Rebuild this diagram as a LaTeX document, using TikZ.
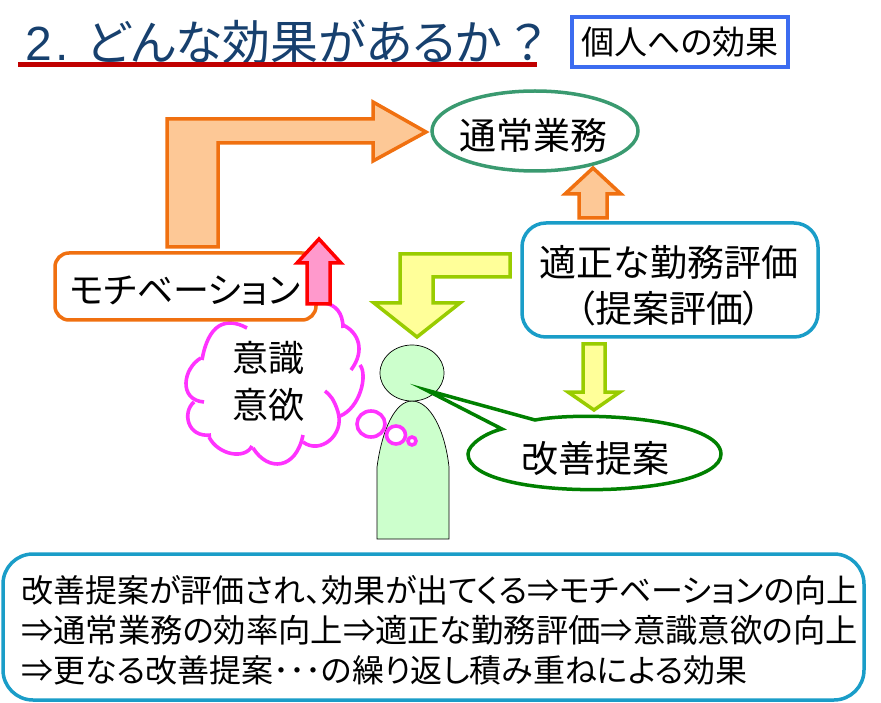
\documentclass[tikz,border=0pt]{standalone}
\usepackage{fontspec}
\setmainfont[RawFeature=+palt]{Noto Sans CJK JP}
\newfontfamily\latinf{Liberation Sans}
\definecolor{tblue}{HTML}{17406E}
\definecolor{tred}{HTML}{C00000}
\definecolor{bblue}{HTML}{3C6CF0}
\definecolor{orng}{HTML}{F07010}
\definecolor{lorng}{HTML}{FDC896}
\definecolor{ggreen}{HTML}{3A9A70}
\definecolor{cyanb}{HTML}{1A9DC8}
\definecolor{ylw}{HTML}{FFFF99}
\definecolor{olive}{HTML}{99CC00}
\definecolor{pnk}{HTML}{FF99CC}
\definecolor{mag}{HTML}{FF33FF}
\definecolor{pers}{HTML}{CCFFCC}
\definecolor{dgreen}{HTML}{008000}
\tikzset{
  js/.style={font=\fontsize{#1}{#1}\selectfont,inner sep=0pt,text=black},
  orarrow/.style={draw=orng,fill=lorng,line width=3.5pt,miter limit=10},
  yarrow/.style={draw=olive,fill=ylw,line width=3.5pt,miter limit=10},
  rarrow/.style={draw=red,fill=pnk,line width=3.5pt,miter limit=10},
  rbox/.style={draw=#1,fill=white,line width=3.5pt},
  cloudline/.style={draw=mag,line width=3.6pt},
  personfill/.style={draw=black,fill=pers,line width=0.7pt}
}
\begin{document}
\begin{tikzpicture}[x=1pt,y=-1pt]
\useasboundingbox (0,0) rectangle (881,703);
% title
\node[font=\fontsize{48}{48}\selectfont,text=tblue,inner sep=0pt,anchor=west] (title) at (25,42) {{\latinf 2\hspace{4pt}.}\hspace{17pt}どんな効果があるか\hspace{9pt}？};
\draw[tred,line width=5pt] (18,65) -- (537,65);
\node[draw=bblue,fill=white,line width=3.5pt,minimum width=216pt,minimum height=50pt,inner sep=0pt,font=\fontsize{33}{33}\selectfont] (kojin) at (680,42) {個人への効果};
% big bent arrow
\draw[orarrow] (167,247) -- (167,119) -- (373,119) -- (373,102) -- (426,132) -- (373,161) -- (373,143) -- (218,143) -- (218,247) -- cycle;
% ellipse
\draw[draw=ggreen,fill=white,line width=3.5pt] (535,131) ellipse [x radius=103pt,y radius=40pt];
\node[js=37] (tsujo) at (533,135) {通常業務};
% small up arrow
\draw[orarrow] (579,218) -- (579,194) -- (565,194) -- (593,168) -- (621,194) -- (607,194) -- (607,218) -- cycle;
% cloud
\fill[white] (232,330) -- (340,310) -- (360,380) -- (300,450) -- (200,440) -- (190,380) -- cycle;
\draw[cloudline] (247,328) .. controls (225,316) and (208,325) .. (202,360);
\draw[cloudline] (201,358) .. controls (183,368) and (178,400) .. (204,402);
\draw[cloudline] (194,402) .. controls (182,412) and (187,438) .. (211,435);
\draw[cloudline] (209,437) .. controls (218,455) and (245,460) .. (252,446);
\draw[cloudline] (253,448) .. controls (268,472) and (296,470) .. (303,435);
\draw[cloudline] (303,442) .. controls (320,455) and (345,435) .. (338,412) .. controls (334,399) and (330,395) .. (325,391);
\draw[cloudline] (340,416) .. controls (360,408) and (368,375) .. (360,365);
\draw[cloudline] (351,370) .. controls (366,350) and (358,332) .. (343,325);
\draw[cloudline] (343,328) .. controls (343,312) and (335,305) .. (325,303);
\node[js=36] (ishiki) at (268,358) {意識};
\node[js=36] (iyoku) at (268,405) {意欲};
% motivation
\draw[rbox=orng,rounded corners=14pt] (55,253) rectangle (316,320);
\node[js=36] (moti) at (185,291) {モチベーション};
% red arrow
\draw[rarrow] (307,304) -- (307,263) -- (297,263) -- (319,239) -- (341,263) -- (330,263) -- (330,304) -- cycle;
% tekisei
\draw[rbox=cyanb,rounded corners=24pt] (522,223) rectangle (818,337);
\node[js=37] (tek1) at (669,262) {適正な勤務評価};
\node[js=37] (tek2) at (669,308) {（提案評価）};
% yellow bent arrow
\draw[yarrow] (510,254) -- (400,254) -- (400,303) -- (374,303) -- (417,337) -- (460,303) -- (433,303) -- (433,277) -- (510,277) -- cycle;
% yellow down arrow
\draw[yarrow] (583,344) -- (605,344) -- (605,392) -- (620,392) -- (594,410) -- (568,392) -- (583,392) -- cycle;
% person
\draw[personfill] (377,539) -- (377,467) .. controls (382,430) and (395,401) .. (412,401) .. controls (430,401) and (445,430) .. (449,467) -- (449,539) -- cycle;
\draw[personfill] (412,373) ellipse [x radius=32pt,y radius=28pt];
% thought bubbles
\draw[cloudline,fill=white] (371,424) ellipse [x radius=14pt,y radius=13pt];
\draw[cloudline,fill=white] (396,435) ellipse [x radius=9.5pt,y radius=9pt];
\draw[cloudline,fill=white] (412,441) ellipse [x radius=4pt,y radius=4pt];
% callout
\draw[draw=dgreen,fill=white,line width=3.5pt,miter limit=20] (426,390) -- (535,420) .. controls (590,410) and (721,420) .. (721,454) .. controls (721,500) and (468,503) .. (468,454) .. controls (468,445) and (485,433) .. (502,429) -- cycle;
\node[js=37] (kaizen) at (595,458) {改善提案};
% bottom box
\draw[rbox=cyanb,rounded corners=30pt] (3,554) rectangle (864,700);
\node[js=32,anchor=west] (l1) at (21,590) {改善提案が評価され、効果が出てくる⇒モチベーションの向上};
\node[js=32.3,anchor=west] (l2) at (21,630) {⇒通常業務の効率向上⇒適正な勤務評価⇒意識意欲の向上};
\node[js=32,anchor=west] (l3) at (21,670) {⇒更なる改善提案･･･の繰り返し積み重ねによる効果};
\end{tikzpicture}
\end{document}
